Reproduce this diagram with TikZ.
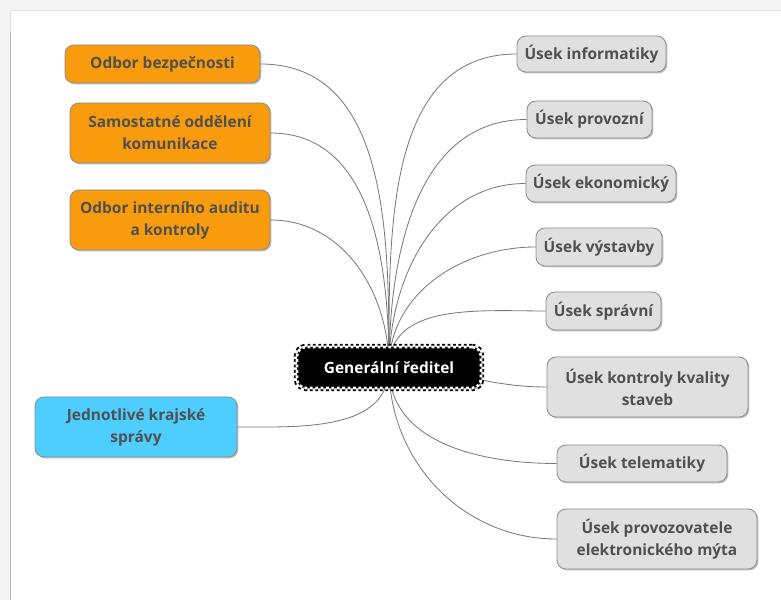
\documentclass[tikz,border=0pt]{standalone}
\usepackage{fontspec}
\setmainfont{Open Sans}
\usetikzlibrary{shadows}
\pgfdeclarelayer{bg}
\pgfdeclarelayer{edges}
\pgfsetlayers{bg,edges,main}
\definecolor{orangebox}{RGB}{248,155,12}
\definecolor{cyanbox}{RGB}{77,206,255}
\definecolor{graybox}{RGB}{224,224,224}
\definecolor{boxline}{RGB}{140,140,140}
\definecolor{txt}{RGB}{80,80,80}
\definecolor{edge}{RGB}{120,120,120}
\tikzset{
  mbox/.style={rounded corners=9*0.03cm, draw=boxline, line width=0.7pt,
    font=\fontsize{13.2}{18.8}\selectfont\bfseries, text=txt, align=center,
    inner sep=0pt,
    drop shadow={shadow xshift=1.2pt, shadow yshift=-1.2pt, fill=black, opacity=0.25}},
  orangenode/.style={mbox, fill=orangebox},
  cyannode/.style={mbox, fill=cyanbox},
  graynode/.style={mbox, fill=graybox},
  conn/.style={draw=edge, line width=0.7pt},
  centralnode/.style={rounded corners=9*0.03cm, fill=black, inner sep=0pt,
    font=\fontsize{13.2}{16}\selectfont\bfseries, text=white,
    drop shadow={shadow xshift=1.2pt, shadow yshift=-1.2pt, fill=black, opacity=0.3},
    preaction={draw=black, line width=5.5pt},
    draw=white, line width=2.4pt, dash pattern=on 2.4pt off 2.2pt}
}
\begin{document}
\begin{tikzpicture}[x=0.03cm, y=-0.03cm]
\useasboundingbox (0,0) rectangle (781,600);
\begin{pgfonlayer}{bg}
  \fill[gray!8] (0,0) rectangle (781,600);
  \fill[white] (11,11) rectangle (781,600);
  \draw[gray!25, line width=1pt] (11,10.5) -- (781,10.5);
  \draw[gray!60, line width=1.5pt] (10.5,32) -- (10.5,600);
  \draw[gray!25, line width=1.5pt] (10.5,11) -- (10.5,32);
\end{pgfonlayer}

\node[centralnode, minimum width=184*0.03cm, minimum height=41*0.03cm] (c) at (389,367.5) {Generální ředitel};

\node[orangenode, minimum width=195*0.03cm, minimum height=38*0.03cm] (bez) at (162.5,64) {Odbor bezpečnosti};
\node[orangenode, minimum width=200*0.03cm, minimum height=60*0.03cm] (kom) at (170,133) {Samostatné oddělení\\komunikace};
\node[orangenode, minimum width=200*0.03cm, minimum height=60*0.03cm] (aud) at (170,220) {Odbor interního auditu\\a kontroly};
\node[cyannode, minimum width=202*0.03cm, minimum height=60*0.03cm] (kraj) at (136,427) {Jednotlivé krajské\\správy};

\node[graynode, minimum width=149*0.03cm, minimum height=36*0.03cm] (inf) at (591.5,54) {Úsek informatiky};
\node[graynode, minimum width=125*0.03cm, minimum height=37*0.03cm] (prov) at (589.5,119.5) {Úsek provozní};
\node[graynode, minimum width=150*0.03cm, minimum height=37*0.03cm] (eko) at (601,183.5) {Úsek ekonomický};
\node[graynode, minimum width=126*0.03cm, minimum height=38*0.03cm] (vys) at (599,247) {Úsek výstavby};
\node[graynode, minimum width=115*0.03cm, minimum height=38*0.03cm] (spr) at (603.5,311) {Úsek správní};
\node[graynode, minimum width=201*0.03cm, minimum height=60*0.03cm] (kval) at (647.5,387) {Úsek kontroly kvality\\staveb};
\node[graynode, minimum width=170*0.03cm, minimum height=37*0.03cm] (tel) at (642,463.5) {Úsek telematiky};
\node[graynode, minimum width=200*0.03cm, minimum height=60*0.03cm] (myt) at (657,539) {Úsek provozovatele\\elektronického mýta};

\begin{pgfonlayer}{edges}
  \draw[conn] (c.center) to[out=90, in=0] (bez.east);
  \draw[conn] (c.center) to[out=90, in=0] (kom.east);
  \draw[conn] (c.center) to[out=90, in=0] (aud.east);
  \draw[conn] (c.center) to[out=-90, in=0] (kraj.east);
  \draw[conn] (c.center) to[out=90, in=180] (inf.west);
  \draw[conn] (c.center) to[out=90, in=180] (prov.west);
  \draw[conn] (c.center) to[out=90, in=180] (eko.west);
  \draw[conn] (c.center) to[out=90, in=180] (vys.west);
  \draw[conn] (c.center) to[out=90, in=180] (spr.west);
  \draw[conn] (c.center) to[out=0, in=180] (kval.west);
  \draw[conn] (c.center) to[out=-90, in=180] (tel.west);
  \draw[conn] (c.center) to[out=-90, in=180] (myt.west);
\end{pgfonlayer}
\end{tikzpicture}
\end{document}
